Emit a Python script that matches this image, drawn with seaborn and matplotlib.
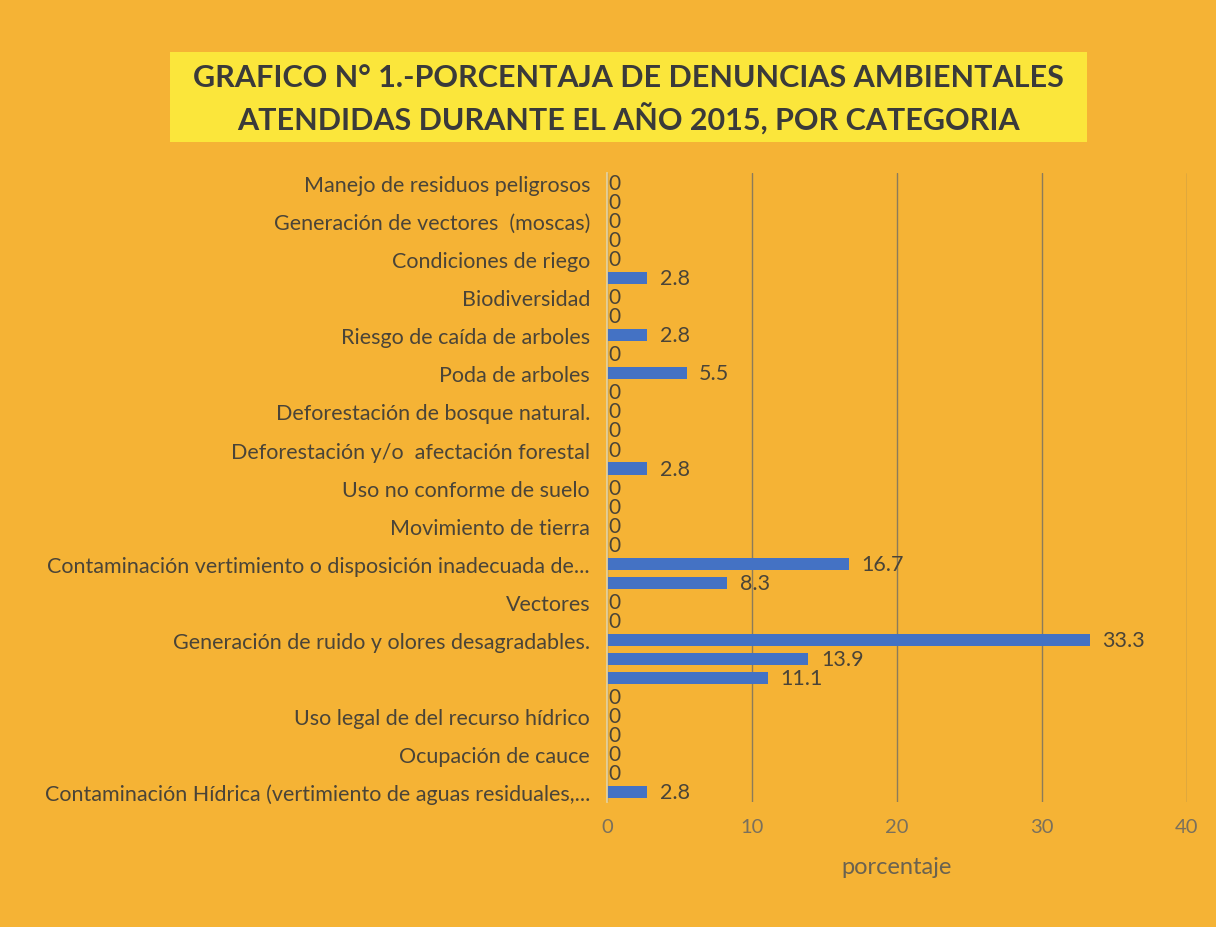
import pandas as pd
import matplotlib.pyplot as plt
import seaborn as sns
from matplotlib.patches import Rectangle

# categories from top to bottom; Excel only printed every second label
etiquetas = [
    'Manejo de residuos peligrosos', '',
    'Generación de vectores  (moscas)', '',
    'Condiciones de riego', '',
    'Biodiversidad', '',
    'Riesgo de caída de arboles', '',
    'Poda de arboles', '',
    'Deforestación de bosque natural.', '',
    'Deforestación y/o  afectación forestal', '',
    'Uso no conforme de suelo', '',
    'Movimiento de tierra', '',
    'Contaminación vertimiento o disposición inadecuada de...', '',
    'Vectores', '',
    'Generación de ruido y olores desagradables.', '',
    '', '',
    'Uso legal de del recurso hídrico', '',
    'Ocupación de cauce', '',
    'Contaminación Hídrica (vertimiento de aguas residuales,...',
]
porcentajes = [
    0, 0, 0, 0, 0, 2.8, 0, 0, 2.8, 0, 5.5, 0, 0, 0, 0, 2.8, 0,
    0, 0, 0, 16.7, 8.3, 0, 0, 33.3, 13.9, 11.1, 0, 0, 0, 0, 0, 2.8,
]
titulo = ['GRAFICO N° 1.-PORCENTAJA DE DENUNCIAS AMBIENTALES',
          'ATENDIDAS DURANTE EL AÑO 2015, POR CATEGORIA']

fondo = '#F5B335'
texto = '#4a4438'

df = pd.DataFrame({'pos': range(len(porcentajes)), 'valor': porcentajes})

sns.set_theme(style='white')
plt.rcParams['font.family'] = ['Lato', 'DejaVu Sans']

fig = plt.figure(figsize=(12.16, 9.28), dpi=100, facecolor=fondo)
ax = fig.add_axes([0.499, 0.135, 0.477, 0.677])
ax.set_facecolor(fondo)

sns.barplot(data=df, x='valor', y='pos', orient='h', order=list(df['pos']),
            color='#4472C4', saturation=1, width=0.64, linewidth=0, ax=ax)

# zeros sit right next to the axis, the rest get a wider gap
cont = ax.containers[0]
ax.bar_label(cont, labels=[f'{v:g}' if v > 0 else '' for v in porcentajes],
             padding=9, fontsize=15.5, color=texto)
ax.bar_label(cont, labels=['0' if v == 0 else '' for v in porcentajes],
             padding=1.5, fontsize=15, color=texto)

ax.set_xlim(0, 40)
ax.set_xticks([0, 10, 20, 30, 40])
ax.set_yticks(range(len(etiquetas)))
ax.set_yticklabels(etiquetas, fontsize=15.5, color=texto)
ax.tick_params(axis='x', labelsize=14.5, labelcolor='#7a705c', length=0, pad=12)
ax.tick_params(axis='y', length=0, pad=12)
ax.grid(axis='x', color='#8C7B5A', linewidth=1)
ax.set_axisbelow(True)
for s in ['top', 'right', 'bottom']:
    ax.spines[s].set_visible(False)
ax.spines['left'].set_color('#E6D3A0')
ax.set_xlabel('porcentaje', fontsize=17, color='#6a6250', labelpad=15)
ax.set_ylabel('')

# yellow title box
fig.patches.append(Rectangle((0.1398, 0.846), 0.754, 0.097, transform=fig.transFigure,
                             facecolor='#FBE63B', edgecolor='none', zorder=0))
fig.text(0.517, 0.916, titulo[0], ha='center', va='center', fontsize=22,
         fontweight='bold', color='#3a3a3a')
fig.text(0.517, 0.871, titulo[1], ha='center', va='center', fontsize=22,
         fontweight='bold', color='#3a3a3a')

fig.savefig('out.png', dpi=100, facecolor=fondo)
